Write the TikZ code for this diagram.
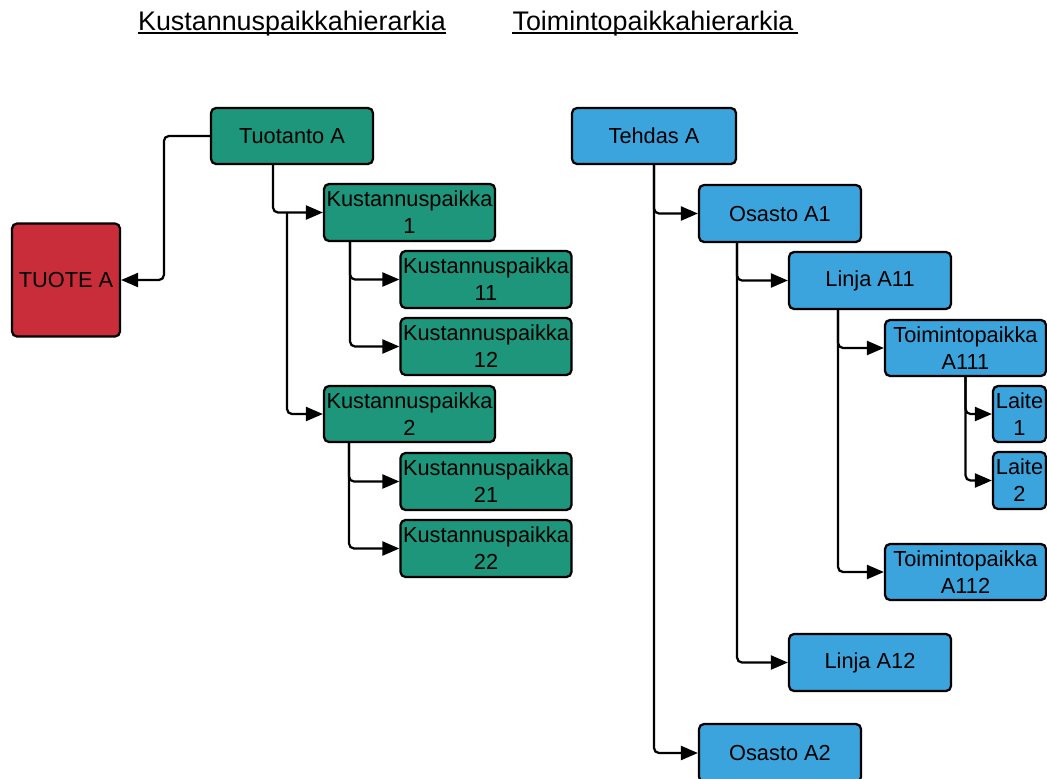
\documentclass[tikz,border=0pt]{standalone}
\usepackage{fontspec}
\setmainfont{Liberation Sans}
\usetikzlibrary{arrows.meta}
\definecolor{kgreen}{RGB}{29,150,124}
\definecolor{kred}{RGB}{201,45,57}
\definecolor{kblue}{RGB}{59,164,220}
\begin{document}
\begin{tikzpicture}[x=0.02cm,y=-0.02cm,
  box/.style={draw=black,line width=0.045cm,rounded corners=0.1cm,inner sep=0pt,
    align=center,font=\fontsize{12.4}{15.3}\selectfont},
  gbox/.style={box,fill=kgreen},
  bbox/.style={box,fill=kblue},
  conn/.style={draw=black,line width=0.045cm,rounded corners=0.1cm,
    -{Triangle[length=0.34cm,width=0.28cm]}},
  title/.style={font=\fontsize{15.3}{18}\selectfont,inner sep=0pt,anchor=base},
  uline/.style={draw=black,line width=0.04cm}]
\useasboundingbox (0,0) rectangle (1047,778);
\clip (0,0) rectangle (1047,778);

% headings, underlined
\node[title] (h1) at (292,30) {Kustannuspaikkahierarkia};
\node[title] (h2) at (653,30) {Toimintopaikkahierarkia};
\draw[uline] ([yshift=-0.05cm]h1.base west) -- ([yshift=-0.05cm]h1.base east);
\draw[uline] ([yshift=-0.05cm]h2.base west) -- ([xshift=0.08cm,yshift=-0.05cm]h2.base east);

% cost centre hierarchy
\node[gbox,minimum width=3.24cm,minimum height=1.12cm] (tuotanto) at (292,136) {Tuotanto A};
\node[box,fill=kred,minimum width=2.16cm,minimum height=2.26cm] (tuote) at (66,280) {TUOTE A};
\node[gbox,minimum width=3.42cm,minimum height=1.14cm] (kp1) at (409.5,212.5) {Kustannuspaikka\\1};
\node[gbox,minimum width=3.42cm,minimum height=1.14cm] (kp11) at (486,279.5) {Kustannuspaikka\\11};
\node[gbox,minimum width=3.42cm,minimum height=1.14cm] (kp12) at (486,346.5) {Kustannuspaikka\\12};
\node[gbox,minimum width=3.42cm,minimum height=1.12cm] (kp2) at (409.5,414) {Kustannuspaikka\\2};
\node[gbox,minimum width=3.42cm,minimum height=1.14cm] (kp21) at (486,481.5) {Kustannuspaikka\\21};
\node[gbox,minimum width=3.42cm,minimum height=1.14cm] (kp22) at (486,548.5) {Kustannuspaikka\\22};

\draw[conn] (tuotanto.west) -- ++(-46,0) |- (tuote.east);
\draw[conn] ([xshift=-0.38cm]tuotanto.south) |- (kp1.west);
\coordinate (split) at (287,212.5);
\draw[conn] (split) |- (kp2.west);
\draw[conn] ([xshift=-1.19cm]kp1.south) |- (kp11.west);
\draw[conn] ([xshift=-1.19cm]kp1.south) |- (kp12.west);
\draw[conn] ([xshift=-1.21cm]kp2.south) |- (kp21.west);
\draw[conn] ([xshift=-1.21cm]kp2.south) |- (kp22.west);

% activity centre hierarchy
\node[bbox,minimum width=3.28cm,minimum height=1.12cm] (tehdas) at (654,136) {Tehdas A};
\node[bbox,minimum width=3.24cm,minimum height=1.14cm] (osa1) at (780,213.5) {Osasto A1};
\node[bbox,minimum width=3.24cm,minimum height=1.14cm] (lin11) at (870,280.5) {Linja A11};
\node[bbox,minimum width=3.22cm,minimum height=1.12cm] (tp111) at (965.5,348) {Toimintopaikka\\A111};
\node[bbox,minimum width=1.06cm,minimum height=1.12cm] (lai1) at (1019.5,414) {Laite\\1};
\node[bbox,minimum width=1.06cm,minimum height=1.14cm] (lai2) at (1019.5,480.5) {Laite\\2};
\node[bbox,minimum width=3.22cm,minimum height=1.12cm] (tp112) at (965.5,572) {Toimintopaikka\\A112};
\node[bbox,minimum width=3.24cm,minimum height=1.14cm] (lin12) at (870,662.5) {Linja A12};
\node[bbox,minimum width=3.24cm,minimum height=1.16cm] (osa2) at (780,753) {Osasto A2};

\draw[conn] (tehdas.south) |- (osa1.west);
\draw[conn] (tehdas.south) |- (osa2.west);
\draw[conn] ([xshift=-0.86cm]osa1.south) |- (lin11.west);
\draw[conn] ([xshift=-0.86cm]osa1.south) |- (lin12.west);
\draw[conn] ([xshift=-0.64cm]lin11.south) |- (tp111.west);
\draw[conn] ([xshift=-0.64cm]lin11.south) |- (tp112.west);
\draw[conn] (tp111.south) |- (lai1.west);
\draw[conn] (tp111.south) |- (lai2.west);
\end{tikzpicture}
\end{document}
